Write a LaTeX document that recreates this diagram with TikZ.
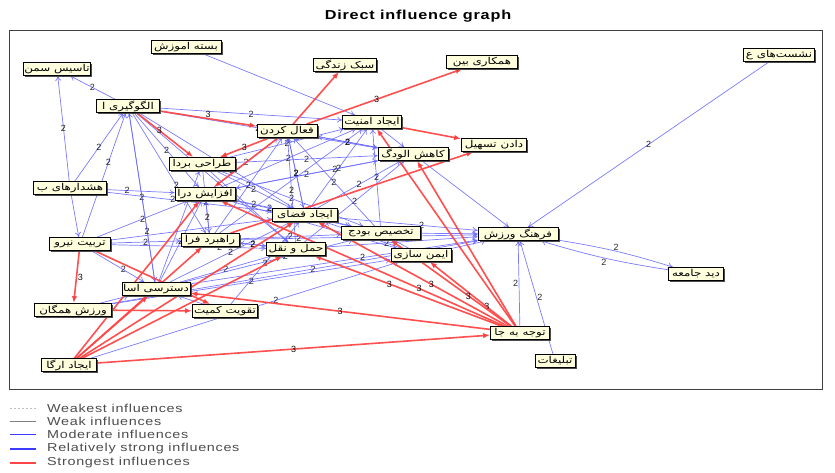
\documentclass[tikz,border=0pt]{standalone}
\usepackage{fontspec}
\usepackage{tikz}
\usetikzlibrary{arrows.meta, positioning, shadows}
\setmainfont{Liberation Sans}
\newfontfamily\farsi[Script=Arabic, FakeStretch=1.25]{DejaVu Sans}
\newfontfamily\legendfont[FakeStretch=1.25, LetterSpace=6]{Liberation Sans}
\TeXXeTstate=1
\newcommand{\rtl}[1]{\beginR #1\endR}
\definecolor{cream}{RGB}{255,255,222}
\definecolor{midblue}{RGB}{100,100,255}
\definecolor{legblue}{RGB}{60,60,255}
\definecolor{topred}{RGB}{255,70,70}
\pgfdeclarelayer{edges}
\pgfsetlayers{edges,main}

\begin{document}
\begin{tikzpicture}[x=1pt, y=-1pt, font=\legendfont]
	% Setup the styles
	\tikzset{box style/.style={rectangle, draw=black, line width=0.8pt,
			fill=cream, minimum height=13pt, inner sep=1pt,
			font=\farsi\fontsize{9.5}{10}\selectfont,
			drop shadow={shadow xshift=1.6pt, shadow yshift=-1.6pt, fill=black!70, opacity=1}},
		mid link/.style={draw=midblue, line width=0.7pt, opacity=0.85,
			-{To[length=5pt, width=6pt]}},
		top link/.style={draw=topred, line width=1.6pt, opacity=0.95,
			-{Latex[length=7pt, width=5.5pt]}},
		weight/.style={font=\fontsize{9}{10}\selectfont, text=black, inner sep=0.5pt},
		legend text/.style={anchor=west, text=black!70, inner sep=0pt,
			font=\legendfont\fontsize{11.5}{12}\selectfont}}
	\useasboundingbox (0,0) rectangle (835,472);
	% Title and frame
	\node[font=\legendfont\bfseries\fontsize{13}{15}\selectfont] (title) at (418,16) {Direct influence graph};
	\draw[black!75, line width=0.8pt] (9,30) rectangle (822,389);
	% Draw the factors
	\node[box style, minimum width=70pt] at (186,47)  (bastah)   {\rtl{بسته اموزش}};
	\node[box style, minimum width=65pt] at (57,69)   (tasis)    {\rtl{تاسیس سمن}};
	\node[box style, minimum width=63pt] at (128,106) (olgu)     {\rtl{الگوگیری ا}};
	\node[box style, minimum width=63pt] at (345,65)  (sabk)     {\rtl{سبک زندگی}};
	\node[box style, minimum width=71pt] at (482,62)  (hamkari)  {\rtl{همکاری بین}};
	\node[box style, minimum width=71pt] at (779,55)  (neshast)  {\rtl{نشست‌های ع}};
	\node[box style, minimum width=60pt] at (287,131) (faal)     {\rtl{فعال کردن}};
	\node[box style, minimum width=59pt] at (372,122) (amniat)   {\rtl{ایجاد امنیت}};
	\node[box style, minimum width=65pt] at (494,145) (tashil)   {\rtl{دادن تسهیل}};
	\node[box style, minimum width=70pt] at (413,154) (kahesh)   {\rtl{کاهش الودگ}};
	\node[box style, minimum width=66pt] at (202,164) (tarahi)   {\rtl{طراحی بردا}};
	\node[box style, minimum width=73pt] at (70,188)  (hoshdar)  {\rtl{هشدارهای ب}};
	\node[box style, minimum width=60pt] at (205,194) (afzayesh) {\rtl{افزایش درا}};
	\node[box style, minimum width=65pt] at (305,215) (fazai)    {\rtl{ایجاد فضای}};
	\node[box style, minimum width=79pt] at (381,233) (takhsis)  {\rtl{تخصیص بودج}};
	\node[box style, minimum width=80pt] at (518,234) (farhang)  {\rtl{فرهنگ ورزش}};
	\node[box style, minimum width=58pt] at (210,240) (rahbord)  {\rtl{راهبرد فرا}};
	\node[box style, minimum width=59pt] at (296,249) (haml)     {\rtl{حمل و نقل}};
	\node[box style, minimum width=61pt] at (80,244)  (tarbiat)  {\rtl{تربیت نیرو}};
	\node[box style, minimum width=60pt] at (421,255) (imen)     {\rtl{ایمن سازی}};
	\node[box style, minimum width=55pt] at (696,274) (did)      {\rtl{دید جامعه}};
	\node[box style, minimum width=66pt] at (156,289) (dastresi) {\rtl{دسترسی اسا}};
	\node[box style, minimum width=77pt] at (73,310)  (varzesh)  {\rtl{ورزش همگان}};
	\node[box style, minimum width=65pt] at (225,311) (taghviat) {\rtl{تقویت کمیت}};
	\node[box style, minimum width=59pt] at (520,333) (tavajoh)  {\rtl{توجه به جا}};
	\node[box style, minimum width=55pt] at (69,365)  (organ)    {\rtl{ایجاد ارگا}};
	\node[box style, minimum width=40pt] at (555,361) (tabligh)  {\rtl{تبلیغات}};
	% Connect the factors with arrows
	\begin{pgfonlayer}{edges}
	\draw[mid link]
		(olgu)     edge node[weight]{2} (tasis)
		(hoshdar)  edge node[weight]{2} (tasis)
		(hoshdar)  edge node[weight]{2} (olgu)
		(hoshdar)  edge (tarbiat)
		(hoshdar)  edge node[weight, pos=0.3]{2} (afzayesh)
		(hoshdar)  edge node[weight, pos=0.4]{2} (fazai)
		(tarbiat)  edge node[weight, pos=0.6]{2} (olgu)
		(tarbiat)  edge node[weight]{2} (rahbord)
		(tarbiat)  edge node[weight]{2} (afzayesh)
		(tarbiat)  edge node[weight, pos=0.6]{2} (dastresi)
		(tarbiat)  edge node[weight, pos=0.7]{2} (haml)
		(tarbiat)  edge (fazai)
		(varzesh)  edge (dastresi)
		(varzesh)  edge node[weight, pos=0.55]{2} (farhang)
		(varzesh)  edge node[weight, pos=0.5]{2} (imen)
		(organ)    edge node[weight, pos=0.6]{2} (imen)
		(dastresi) edge node[weight]{2} (olgu)
		(dastresi) edge node[weight]{2} (afzayesh)
		(dastresi) edge (tarahi)
		(dastresi) edge node[weight]{2} (fazai)
		(dastresi) edge node[weight]{2} (haml)
		(dastresi) edge node[weight, pos=0.6]{2} (takhsis)
		(dastresi) edge node[weight, pos=0.6]{2} (farhang)
		(taghviat) edge (dastresi)
		(taghviat) edge node[weight]{2} (fazai)
		(olgu)     edge node[weight]{2} (amniat)
		(olgu)     edge node[weight, pos=0.45]{2} (kahesh)
		(olgu)     edge node[weight]{2} (afzayesh)
		(olgu)     edge node[weight, pos=0.6]{2} (rahbord)
		(olgu)     edge node[weight, pos=0.6]{2} (fazai)
		(olgu)     edge (haml)
		(olgu)     edge node[weight, pos=0.7]{2} (dastresi)
		(bastah)   edge (amniat)
		(tarahi)   edge node[weight]{2} (amniat)
		(tarahi)   edge node[weight]{2} (kahesh)
		(tarahi)   edge node[weight]{2} (fazai)
		(tarahi)   edge node[weight]{2} (takhsis)
		(tarahi)   edge (haml)
		(tarahi)   edge node[weight]{2} (rahbord)
		(afzayesh) edge node[weight]{2} (faal)
		(afzayesh) edge node[weight]{2} (amniat)
		(afzayesh) edge node[weight]{2} (kahesh)
		(afzayesh) edge node[weight, pos=0.3]{2} (takhsis)
		(afzayesh) edge node[weight]{2} (fazai)
		(afzayesh) edge (imen)
		(rahbord)  edge node[weight]{2} (afzayesh)
		(rahbord)  edge node[weight]{2} (faal)
		(rahbord)  edge (amniat)
		(rahbord)  edge node[weight]{2} (takhsis)
		(rahbord)  edge node[weight]{2} (haml)
		(rahbord)  edge node[weight, pos=0.25]{2} (farhang)
		(fazai)    edge node[weight]{2} (faal)
		(fazai)    edge node[weight]{2} (amniat)
		(fazai)    edge node[weight]{2} (kahesh)
		(fazai)    edge (takhsis)
		(fazai)    edge node[weight, pos=0.6]{2} (farhang)
		(haml)     edge node[weight]{2} (faal)
		(haml)     edge node[weight]{2} (kahesh)
		(haml)     edge node[weight, pos=0.4]{2} (farhang)
		(haml)     edge node[weight]{2} (rahbord)
		(takhsis)  edge node[weight]{2} (faal)
		(takhsis)  edge node[weight]{2} (amniat)
		(takhsis)  edge (farhang)
		(kahesh)   edge (farhang)
		(kahesh)   edge node[weight]{2} (faal)
		(kahesh)   edge node[weight, pos=0.3]{2} (afzayesh)
		(imen)     edge (farhang)
		(imen)     edge (takhsis)
		(imen)     edge node[weight]{2} (fazai)
		(amniat)   edge (kahesh)
		(faal)     edge node[weight]{2} (kahesh)
		(faal)     edge node[weight]{2} (fazai)
		(neshast)  edge node[weight]{2} (farhang)
		(farhang)  edge[bend left=4] node[weight, above]{2} (did)
		(did)      edge[bend left=4] node[weight, below]{2} (farhang)
		(tavajoh)  edge node[weight, left]{2} (farhang)
		(tabligh)  edge node[weight, right]{2} (farhang);
	\draw[top link]
		(olgu)     edge node[weight, above]{3} (faal)
		(olgu)     edge node[weight, pos=0.4]{3} (tarahi)
		(faal)     edge (sabk)
		(faal)     edge node[weight, pos=0.45]{3} (hamkari)
		(faal)     edge node[weight]{3} (tarahi)
		(faal)     edge (afzayesh)
		(amniat)   edge (tashil)
		(rahbord)  edge (tashil)
		(tavajoh)  edge (amniat)
		(tavajoh)  edge (kahesh)
		(tavajoh)  edge node[weight, pos=0.3]{3} (imen)
		(tavajoh)  edge node[weight, pos=0.35]{3} (takhsis)
		(tavajoh)  edge node[weight, pos=0.4]{3} (fazai)
		(tavajoh)  edge node[weight, pos=0.6]{3} (haml)
		(tavajoh)  edge node[weight, pos=0.3]{3} (afzayesh)
		(tavajoh)  edge node[weight]{3} (dastresi)
		(organ)    edge node[weight]{3} (tavajoh)
		(organ)    edge (afzayesh)
		(organ)    edge (dastresi)
		(organ)    edge (rahbord)
		(organ)    edge (haml)
		(organ)    edge (fazai)
		(tarbiat)  edge node[weight, right]{3} (varzesh)
		(varzesh)  edge (taghviat)
		(tarbiat)  edge (taghviat);
	\end{pgfonlayer}
	% Legend
	\tikzset{weakest/.style={draw=black!25, line width=0.6pt, dash pattern=on 1.5pt off 2.5pt},
		weak/.style={draw=black!50, line width=0.6pt},
		moderate/.style={draw=legblue, line width=0.6pt},
		rel strong/.style={draw=legblue, line width=1.2pt},
		strongest/.style={draw=topred, line width=1.5pt}}
	\foreach \y/\kind/\txt in {408/weakest/Weakest influences, 421/weak/Weak influences,
		434/moderate/Moderate influences, 449/rel strong/Relatively strong influences,
		463/strongest/Strongest influences}{
		\coordinate (ls\y) at (10,\y);
		\coordinate (le\y) at (36,\y);
		\draw[\kind] (ls\y) -- (le\y);
		\node[legend text] (lt\y) at (47,\y) {\txt};
	}
\end{tikzpicture}
\end{document}
